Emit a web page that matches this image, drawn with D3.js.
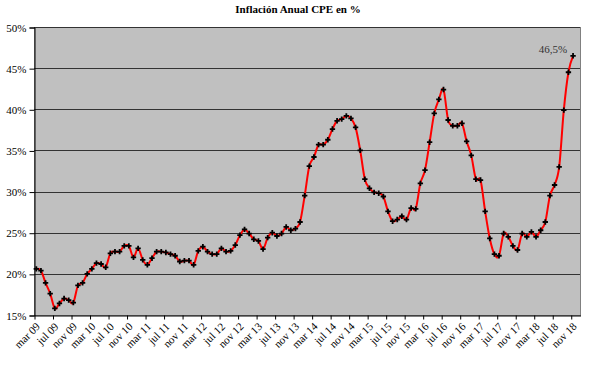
<!DOCTYPE html>
<html><head><meta charset="utf-8">
<script src="https://cdn.jsdelivr.net/npm/d3@7"></script>
<style>body{margin:0;background:#fff}svg{display:block}</style>
</head><body>
<script>
const title = "Inflación Anual CPE en %";
const monthNames = ["ene","feb","mar","abr","may","jun","jul","ago","sep","oct","nov","dic"];
const startYear = 2009, startMonth = 2; // mar 09
const values = [
 20.6,20.4,18.9,17.6,15.8,16.4,17.0,16.8,16.5,18.6,18.9,20.0,
 20.6,21.3,21.2,20.8,22.5,22.7,22.7,23.4,23.4,22.0,23.1,21.7,
 21.1,21.9,22.7,22.7,22.6,22.4,22.2,21.5,21.6,21.6,21.1,22.8,
 23.3,22.7,22.4,22.4,23.1,22.7,22.8,23.5,24.7,25.4,24.9,24.2,
 24.0,23.0,24.4,25.0,24.6,24.9,25.7,25.3,25.5,26.3,29.5,33.1,
 34.2,35.7,35.7,36.3,37.6,38.6,38.8,39.2,38.9,37.8,35.0,31.5,
 30.4,29.9,29.8,29.4,27.6,26.4,26.6,27.0,26.6,28.0,27.9,31.0,
 32.6,36.0,39.5,41.2,42.4,38.7,38.0,38.0,38.3,36.1,34.4,31.5,
 31.4,27.6,24.3,22.4,22.2,24.9,24.5,23.4,22.9,24.9,24.5,25.1,
 24.5,25.3,26.3,29.5,30.8,33.0,39.9,44.5,46.5
];
const yTicks = [15,20,25,30,35,40,45,50];
const lastLabel = "46,5%";

const W = 596, H = 366;
const svg = d3.select("body").append("svg").attr("width", W).attr("height", H);
const L = 34, R = 580, T = 27, B = 315;
const nCat = values.length + 1;
const x = d3.scaleLinear().domain([0, nCat]).range([L, R]);
const y = d3.scaleLinear().domain([15, 50]).range([B, T]);
const font = "'Liberation Serif','Times New Roman',serif";

svg.append("rect").attr("x", L + 0.5).attr("y", T + 0.5).attr("width", R - L).attr("height", B - T)
  .attr("fill", "#c0c0c0").attr("stroke", "#808080").attr("stroke-width", 1);

// gridlines
svg.append("g").selectAll("line").data(yTicks.filter(d => d > 15)).join("line")
  .attr("x1", L).attr("x2", R)
  .attr("y1", d => Math.round(y(d)) + 0.5).attr("y2", d => Math.round(y(d)) + 0.5)
  .attr("stroke", "#333").attr("stroke-width", 1);

// y axis
const yAxis = d3.axisLeft(y).tickValues(yTicks).tickFormat(d => d + "%").tickSize(5).tickPadding(3);
const gy = svg.append("g").attr("transform", `translate(${L + 0.5},0.5)`).call(yAxis);
gy.select(".domain").attr("stroke", "#000");
gy.selectAll(".tick line").attr("stroke", "#000");
gy.selectAll("text").attr("font-family", font).attr("font-size", 11).attr("fill", "#000");

// x axis
const tickIdx = d3.range(0, values.length, 4);
const label = i => {
  const m = startMonth + i;
  return monthNames[m % 12] + " " + String((startYear + Math.floor(m / 12)) % 100).padStart(2, "0");
};
const xAxis = d3.axisBottom(x).tickValues(tickIdx).tickFormat(label).tickSize(4).tickSizeOuter(0);
const gx = svg.append("g").attr("transform", `translate(0.5,${B + 0.5})`).call(xAxis);
gx.select(".domain").attr("stroke", "#000");
gx.selectAll(".tick line").attr("stroke", "#000");
gx.selectAll("text").attr("font-family", font).attr("font-size", 11).attr("fill", "#000")
  .attr("text-anchor", "end").attr("dy", "0.35em").attr("dx", null)
  .attr("transform", "translate(3,9) rotate(-45)").attr("y", 0).attr("x", 0);

// line
svg.append("path").datum(values)
  .attr("d", d3.line().x((d, i) => x(i + 0.5)).y(d => y(d)).curve(d3.curveCatmullRom.alpha(0)))
  .attr("fill", "none").attr("stroke", "#ff0000").attr("stroke-width", 2);

svg.append("g").selectAll("path").data(values).join("path")
  .attr("transform", (d, i) => `translate(${x(i + 0.5)},${y(d)})`)
  .attr("d", d3.symbol(d3.symbolCross, 16))
  .attr("fill", "#000");

// annotation
svg.append("text").attr("x", x(values.length - 0.5) - 6).attr("y", y(values[values.length - 1]) - 3)
  .attr("text-anchor", "end").attr("font-family", font).attr("font-size", 11).attr("fill", "#333")
  .text(lastLabel);

// title
svg.append("text").attr("x", 298).attr("y", 13).attr("text-anchor", "middle")
  .attr("font-family", font).attr("font-size", 11).attr("font-weight", "bold").text(title);
</script>
</body></html>
